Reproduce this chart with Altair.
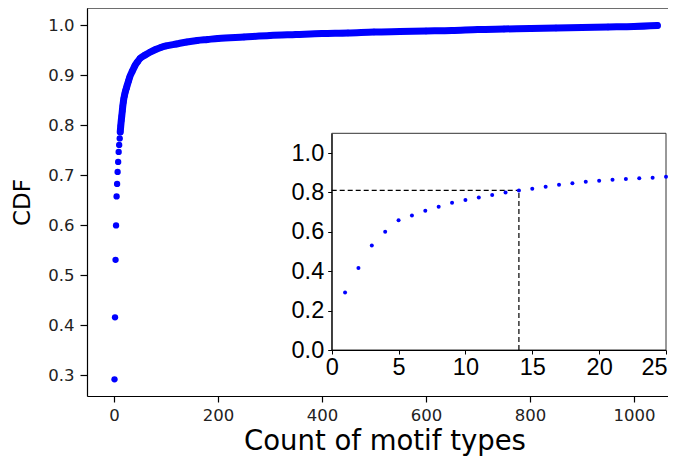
import altair as alt
import pandas as pd

# ---- data ----
counts = list(range(1, 26)) + [28, 30, 35, 40, 45, 50, 60, 70, 80, 90, 100, 120, 140, 160,
                               180, 200, 250, 300, 350, 400, 450, 500, 550, 600, 650, 700,
                               750, 800, 850, 900, 950, 1000, 1045]
cdf = [0.292, 0.416, 0.531, 0.600, 0.658, 0.683, 0.707, 0.727, 0.747, 0.761,
       0.774, 0.787, 0.799, 0.810, 0.819, 0.829, 0.839, 0.847, 0.854, 0.859,
       0.864, 0.868, 0.872, 0.875, 0.879,
       0.889, 0.896, 0.908, 0.919, 0.927, 0.934, 0.941, 0.947, 0.952, 0.956,
       0.959, 0.963, 0.967, 0.970, 0.972, 0.974, 0.977, 0.980, 0.982, 0.984,
       0.985, 0.987, 0.988, 0.989, 0.990, 0.992, 0.993, 0.994, 0.995, 0.996,
       0.997, 0.998, 1.000]

inset_counts = list(range(1, 26))
inset_cdf = cdf[:25]

x_ticks = [0, 200, 400, 600, 800, 1000]
y_ticks = [0.3, 0.4, 0.5, 0.6, 0.7, 0.8, 0.9, 1.0]
inset_x_ticks = [0, 5, 10, 15, 20, 25]
inset_y_ticks = [0.0, 0.2, 0.4, 0.6, 0.8, 1.0]

x_domain = [-51.9, 1065.4]
y_domain = [0.2586, 1.035]
inset_x_domain = [0, 25]
inset_y_domain = [0, 1.1]

marker_count = 14
marker_cdf = 0.81

W, H = 581, 388

main_df = pd.DataFrame({"count": counts, "cdf": cdf})
inset_df = pd.DataFrame({"count": inset_counts, "cdf": inset_cdf})
one = pd.DataFrame({"k": [0]})

BLUE = "#0000ff"

# ---- main chart ----
mx_scale = alt.Scale(domain=x_domain, nice=False, zero=False)
my_scale = alt.Scale(domain=y_domain, nice=False, zero=False)

mx_axis = alt.Axis(values=x_ticks, format="d", title="Count of motif types", titleFontSize=27.5,
                   titleFont="DejaVu Sans", titleFontWeight="normal", titleColor="black",
                   titleBaseline="alphabetic", titleY=53, titleX=297.5,
                   labelFont="DejaVu Sans", labelFontSize=16.5, labelColor="#222222",
                   tickSize=6, tickColor="black", tickWidth=1.2, domainColor="black",
                   domainWidth=1.2, grid=False, labelPadding=5, labelFlush=False)
my_axis = alt.Axis(values=y_ticks, format=".1f", title="CDF", titleFontSize=23,
                   titleFont="DejaVu Sans", titleFontWeight="normal", titleColor="black",
                   labelFont="DejaVu Sans", labelFontSize=16.5, labelColor="#222222",
                   tickSize=7, tickColor="black", tickWidth=1.2, domainColor="black",
                   domainWidth=1.2, grid=False, labelPadding=6, titlePadding=13,
                   labelFlush=False)

main_x = alt.X("count:Q", scale=mx_scale, axis=mx_axis)
main_y = alt.Y("cdf:Q", scale=my_scale, axis=my_axis)

main_line = alt.Chart(main_df).transform_filter(alt.datum["count"] >= 12).mark_line(
    color=BLUE, strokeWidth=7, strokeCap="round", interpolate="monotone"
).encode(x=main_x, y=main_y)

main_points = alt.Chart(main_df).mark_circle(size=40, color=BLUE, opacity=1).encode(
    x=main_x, y=main_y)

top_border = alt.Chart(one).mark_rule(color="black", strokeWidth=1.2).encode(
    x=alt.X(datum=x_domain[0], type="quantitative", scale=mx_scale, axis=mx_axis),
    x2=alt.X2(datum=x_domain[1]),
    y=alt.Y(datum=y_domain[1], type="quantitative", scale=my_scale, axis=my_axis),
)

main = alt.layer(main_line, main_points, top_border)

# ---- inset ----
ix_scale = alt.Scale(domain=inset_x_domain, range=[244.7, 579], nice=False, zero=False)
iy_scale = alt.Scale(domain=inset_y_domain, range=[342, 125.3], nice=False, zero=False)

ix_axis = alt.Axis(values=inset_x_ticks, orient="bottom", offset=-46, title=None,
                   labelFont="Liberation Sans", labelFontSize=23.5, labelColor="black",
                   labelOffset=alt.condition("datum.value == 25", alt.value(-12), alt.value(0)),
                   tickSize=4, tickColor="black", domainColor="black", domainWidth=1,
                   grid=False, labelPadding=1, labelFlush=False, zindex=2)
iy_axis = alt.Axis(values=inset_y_ticks, format=".1f", orient="left", offset=-244.7,
                   title=None, labelFont="Liberation Sans", labelFontSize=23.5,
                   labelColor="black", tickSize=4, tickColor="black", domainColor="black",
                   domainWidth=1, grid=False, labelPadding=4, labelFlush=False, zindex=2)

inset_frame = alt.Chart(one).mark_rect(fill="white", stroke="#333333", strokeWidth=1).encode(
    x=alt.X(datum=inset_x_domain[0], type="quantitative", scale=ix_scale, axis=ix_axis),
    x2=alt.X2(datum=inset_x_domain[1]),
    y=alt.Y(datum=inset_y_domain[0], type="quantitative", scale=iy_scale, axis=iy_axis),
    y2=alt.Y2(datum=inset_y_domain[1]),
)

h_dash = alt.Chart(one).mark_rule(color="black", strokeWidth=1.2, strokeDash=[5, 3]).encode(
    x=alt.X(datum=inset_x_domain[0], type="quantitative", scale=ix_scale, axis=ix_axis),
    x2=alt.X2(datum=marker_count),
    y=alt.Y(datum=marker_cdf, type="quantitative", scale=iy_scale, axis=iy_axis),
)
v_dash = alt.Chart(one).mark_rule(color="black", strokeWidth=1.2, strokeDash=[5, 3]).encode(
    x=alt.X(datum=marker_count, type="quantitative", scale=ix_scale, axis=ix_axis),
    y=alt.Y(datum=inset_y_domain[0], type="quantitative", scale=iy_scale, axis=iy_axis),
    y2=alt.Y2(datum=marker_cdf),
)

inset_points = alt.Chart(inset_df).mark_circle(size=16, color=BLUE, opacity=1).encode(
    x=alt.X("count:Q", scale=ix_scale, axis=ix_axis),
    y=alt.Y("cdf:Q", scale=iy_scale, axis=iy_axis),
)

inset = alt.layer(inset_frame, h_dash, v_dash, inset_points)

chart = alt.layer(main, inset).resolve_scale(x="independent", y="independent").resolve_axis(
    x="independent", y="independent"
).properties(
    width=W, height=H,
    autosize=alt.AutoSizeParams(type="none"),
    padding={"left": 79, "top": 0, "right": 0, "bottom": 60},
).configure_view(stroke=None).configure(background="white")

chart.save("out.html", embed_options={"renderer": "svg", "actions": False})
